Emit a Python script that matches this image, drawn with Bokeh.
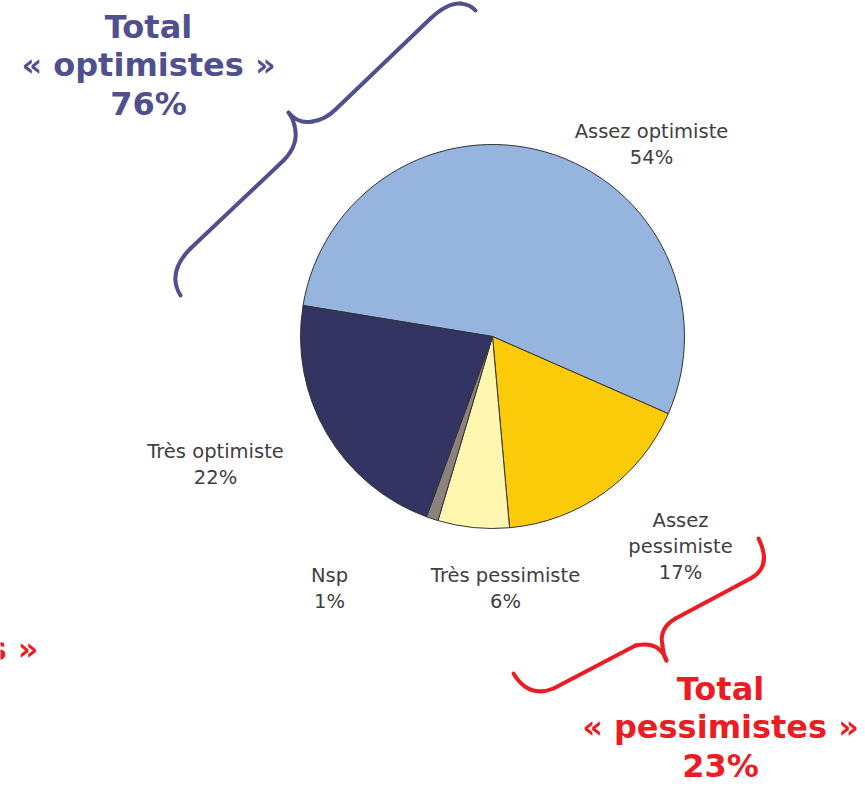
from bokeh.plotting import figure
from bokeh.models import Range1d, ColumnDataSource
from bokeh.core.properties import value
from bokeh.embed import file_html
from bokeh.resources import INLINE
import math

# ---- data ----
categories = ["Assez optimiste", "Assez pessimiste", "Très pessimiste", "Nsp", "Très optimiste"]
label_names = ["Assez optimiste", "Assez\npessimiste", "Très pessimiste", "Nsp", "Très optimiste"]
values = [54, 17, 6, 1, 22]
colors = ["#95B5DE", "#FBCB0A", "#FFF6AF", "#8C817C", "#343462"]
total_optimistes = 76
total_pessimistes = 23

# ---- layout (image pixel coordinates; data y = 786 - image y) ----
W, H = 865, 786
def Y(y):
    return H - y

p = figure(width=W, height=H, x_range=Range1d(0, W), y_range=Range1d(0, H),
           output_backend="svg", toolbar_location=None, min_border=0,
           x_axis_type=None, y_axis_type=None)
p.grid.visible = False
p.outline_line_color = None
p.background_fill_color = "white"
p.border_fill_color = "white"

cx, cy, r = 492, Y(336), 192
start0 = 170.7
starts, ends = [], []
cum = 0
tot = sum(values)
for v in values:
    s = start0 - cum / tot * 360
    e = s - v / tot * 360
    starts.append(math.radians(s))
    ends.append(math.radians(e))
    cum += v

src = ColumnDataSource(dict(cat=categories, val=values, color=colors,
                            start=starts, end=ends))
p.wedge(x=cx, y=cy, radius=r, start_angle="start", end_angle="end",
        direction="clock", fill_color="color", line_color="#333333",
        line_width=1, source=src)

# slice labels
label_pos = [(651, 144), (680, 546), (505, 588), (329, 588), (215, 464)]
lab_src = ColumnDataSource(dict(
    x=[q[0] for q in label_pos],
    y=[Y(q[1]) for q in label_pos],
    text=[f"{n}\n{v}%" for n, v in zip(label_names, values)]))
p.text(x="x", y="y", text="text", source=lab_src, text_align="center",
       text_baseline="middle", text_font=value("DejaVu Sans"),
       text_font_size="19.5px", text_color="#404040", text_line_height=1.15)

# totals
purple = "#51508F"
red = "#EC1C24"
bold_kw = dict(text_align="center", text_baseline="middle",
               text_font=value("DejaVu Sans"), text_font_style="bold",
               text_font_size="32px", text_line_height=1.02)
p.text(x=[148], y=[Y(65)], text=[f"Total\n« optimistes »\n{total_optimistes}%"],
       text_color=purple, **bold_kw)
p.text(x=[720], y=[Y(727)], text=[f"Total\n« pessimistes »\n{total_pessimistes}%"],
       text_color=red, **bold_kw)
p.text(x=[38], y=[Y(648)], text=["« pessimistes »"],
       text_align="right", text_baseline="middle",
       text_font=value("DejaVu Sans"), text_font_style="bold",
       text_font_size="32px", text_color=red)

# braces (decorative)
def brace(segs, color):
    for sg in segs:
        if len(sg) == 2:
            (x0, y0), (x1, y1) = sg
            p.line([x0, x1], [Y(y0), Y(y1)], line_color=color, line_width=4,
                   line_cap="round")
        else:
            (x0, y0), (qx, qy), (x1, y1) = sg
            p.quadratic(x0=x0, y0=Y(y0), x1=x1, y1=Y(y1), cx=qx, cy=Y(qy),
                        line_color=color, line_width=4, line_cap="round")

brace([
    ((180, 295), (166, 272), (190, 248)),
    ((190, 248), (283, 160)),
    ((283, 160), (299, 144), (294, 125)),
    ((294, 125), (292, 117), (288, 112)),
    ((288, 112), (298, 124), (312, 121)),
    ((312, 121), (325, 119), (335, 109)),
    ((335, 109), (430, 18)),
    ((430, 18), (447, 2), (460, 3)),
    ((460, 3), (470, 4), (475, 10)),
], purple)

brace([
    ((758, 538), (772, 566), (750, 578)),
    ((750, 578), (675, 618)),
    ((675, 618), (658, 628), (662, 645)),
    ((662, 645), (663, 655), (666, 660)),
    ((666, 660), (659, 640), (635, 645)),
    ((635, 645), (553, 688)),
    ((553, 688), (528, 698), (513, 673)),
], red)

open("out.html", "w").write(file_html(p, INLINE))
